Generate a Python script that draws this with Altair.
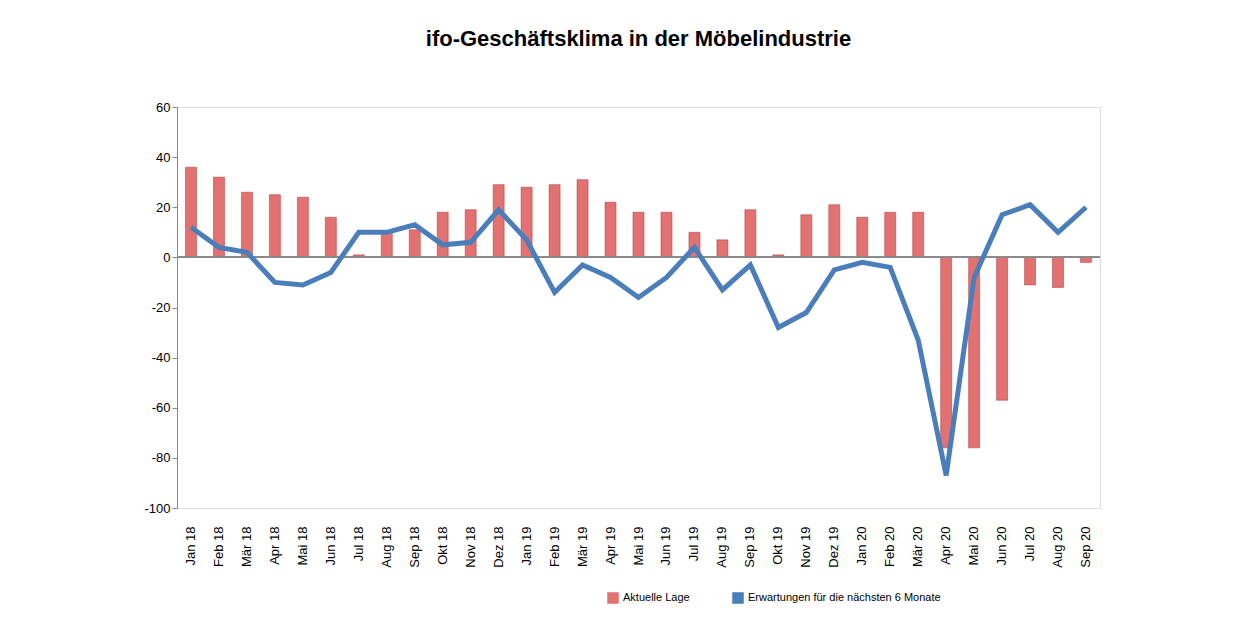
import altair as alt
import pandas as pd

months = ["Jan 18", "Feb 18", "Mär 18", "Apr 18", "Mai 18", "Jun 18", "Jul 18", "Aug 18", "Sep 18",
          "Okt 18", "Nov 18", "Dez 18", "Jan 19", "Feb 19", "Mär 19", "Apr 19", "Mai 19", "Jun 19",
          "Jul 19", "Aug 19", "Sep 19", "Okt 19", "Nov 19", "Dez 19", "Jan 20", "Feb 20", "Mär 20",
          "Apr 20", "Mai 20", "Jun 20", "Jul 20", "Aug 20", "Sep 20"]
lage = [36, 32, 26, 25, 24, 16, 1, 10, 11, 18, 19, 29, 28, 29, 31, 22, 18, 18, 10, 7, 19, 1, 17, 21,
        16, 18, 18, -76, -76, -57, -11, -12, -2]
erwartungen = [12, 4, 2, -10, -11, -6, 10, 10, 13, 5, 6, 19, 7, -14, -3, -8, -16, -8, 4, -13, -3, -28,
               -22, -5, -2, -4, -33, -87, -8, 17, 21, 10, 20]

s_bar = "Aktuelle Lage"
s_line = "Erwartungen für die nächsten 6 Monate"
df = pd.DataFrame({"Monat": months, s_bar: lage, s_line: erwartungen})

x = alt.X("Monat:N", sort=months, title=None,
          axis=alt.Axis(labelAngle=-90, labelFontSize=13, labelColor="black", labelPadding=18,
                        domain=False, ticks=False, grid=False))
y = alt.Y("value:Q", title=None, scale=alt.Scale(domain=[-100, 60]),
          axis=alt.Axis(values=list(range(-100, 61, 20)), labelFontSize=13, labelColor="black",
                        labelExpr="replace(datum.label, '−', '-')",
                        grid=False, domainColor="#888", tickColor="#888"))
color = alt.Color("series:N", scale=alt.Scale(domain=[s_bar, s_line], range=["#e27272", "#4a7ebb"]),
                  legend=alt.Legend(orient="none", legendX=430, legendY=485, direction="horizontal",
                                    title=None, labelFontSize=11, labelLimit=0, columnPadding=40,
                                    symbolType="square"))

base = alt.Chart(df)
bars = base.transform_fold([s_bar], as_=["series", "value"]).mark_bar(
    size=11, stroke="#b03030", strokeWidth=0.5
).encode(x=x, y=y, color=color)
zero = base.mark_rule(color="#888").encode(y=alt.datum(0))
line = base.transform_fold([s_line], as_=["series", "value"]).mark_line(
    strokeWidth=5
).encode(x=x, y=y, color=color)

chart = alt.layer(bars, zero, line).properties(
    width=923, height=401,
    title=alt.Title("ifo-Geschäftsklima in der Möbelindustrie", fontSize=22, font="Liberation Sans",
                    fontWeight="bold", color="black", offset=50),
    padding={"left": 135, "top": 20, "right": 30, "bottom": 5},
).configure_view(strokeWidth=0).configure(font="Liberation Sans")

chart.save("out.html", embed_options={"renderer": "svg", "actions": False})
